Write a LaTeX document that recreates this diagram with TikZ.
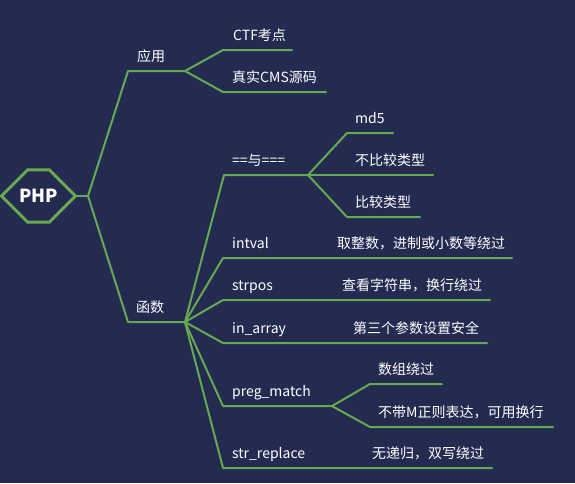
\documentclass[tikz,border=0pt]{standalone}
\usepackage{fontspec}
\setmainfont{Noto Sans CJK SC}
\usepackage{tikz}
\usetikzlibrary{shapes.misc}
\definecolor{bgnavy}{RGB}{36,43,80}
\definecolor{mapgreen}{RGB}{104,168,82}
\tikzset{
  branch/.style={draw=mapgreen,line width=2pt,line join=round},
  topic/.style={anchor=base west,inner sep=0pt,text=white,font=\fontsize{14}{16}\selectfont},
  rootbox/.style={chamfered rectangle,chamfered rectangle xsep=8pt,chamfered rectangle ysep=25pt,
    minimum width=74pt,minimum height=50pt,inner sep=0pt,draw=mapgreen,line width=3pt,
    text=white,font=\fontsize{18}{20}\selectfont\bfseries}
}

\begin{document}
\begin{tikzpicture}[x=1pt,y=-1pt,line cap=round]
\fill[bgnavy] (0,0) rectangle (575,483);
\useasboundingbox (0,0) rectangle (575,483);
% --- root
\node[rootbox] (php) at (38.5,196) {PHP};
\coordinate (root) at (88,196);
\draw[branch] (php.east) -- (root);
% --- 应用
\coordinate (yy) at (185,71);
\node[topic] (yyt) at (137,61) {应用};
\draw[branch] (root) -- (128,71) -- (yy);
\node[topic] (ctf) at (233,40) {CTF考点};
\node[topic] (cms) at (232,82) {真实CMS源码};
\coordinate (ctf-e) at (292,50); \coordinate (cms-e) at (326,92);
\draw[branch] (yy) -- (223,50) -- (ctf-e);
\draw[branch] (yy) -- (223,92) -- (cms-e);
% --- 函数
\coordinate (hs) at (185,322);
\node[topic] (hst) at (136,312) {函数};
\draw[branch] (root) -- (128,322) -- (hs);
% ==与===
\coordinate (eq) at (308,175);
\node[topic] (eqt) at (232,165) {==与===};
\draw[branch] (hs) -- (224,175) -- (eq);
\node[topic] (md5) at (355,123) {md5};
\node[topic] (nocmp) at (355,165) {不比较类型};
\node[topic] (cmp) at (355,207) {比较类型};
\coordinate (md5-e) at (393,133); \coordinate (nocmp-e) at (433,175); \coordinate (cmp-e) at (420,217);
\draw[branch] (eq) -- (347,133) -- (md5-e);
\draw[branch] (eq) -- (nocmp-e);
\draw[branch] (eq) -- (347,217) -- (cmp-e);
% intval / strpos / in_array
\node[topic] (iv) at (232,248) {intval};
\node[topic] (ivn) at (337,248) {取整数，进制或小数等绕过};
\coordinate (iv-e) at (512,258);
\draw[branch] (hs) -- (223,258) -- (iv-e);
\node[topic] (sp) at (232,290) {strpos};
\node[topic] (spn) at (342,290) {查看字符串，换行绕过};
\coordinate (sp-e) at (490,300);
\draw[branch] (hs) -- (223,300) -- (sp-e);
\node[topic] (ia) at (232,333) {in\_array};
\node[topic] (ian) at (353,333) {第三个参数设置安全};
\coordinate (ia-e) at (487,343);
\draw[branch] (hs) -- (223,343) -- (ia-e);
% preg_match
\coordinate (pm) at (332,406);
\node[topic] (pmt) at (232,396) {preg\_match};
\draw[branch] (hs) -- (223,406) -- (pm);
\node[topic] (pma) at (378,374) {数组绕过};
\node[topic] (pmb) at (378,417) {不带M正则表达，可用换行};
\coordinate (pma-e) at (442,384); \coordinate (pmb-e) at (553,427);
\draw[branch] (pm) -- (370,384) -- (pma-e);
\draw[branch] (pm) -- (370,427) -- (pmb-e);
% str_replace
\node[topic] (sr) at (232,458) {str\_replace};
\node[topic] (srn) at (372,458) {无递归，双写绕过};
\coordinate (sr-e) at (492,468);
\draw[branch] (hs) -- (223,468) -- (sr-e);
\end{tikzpicture}
\end{document}
